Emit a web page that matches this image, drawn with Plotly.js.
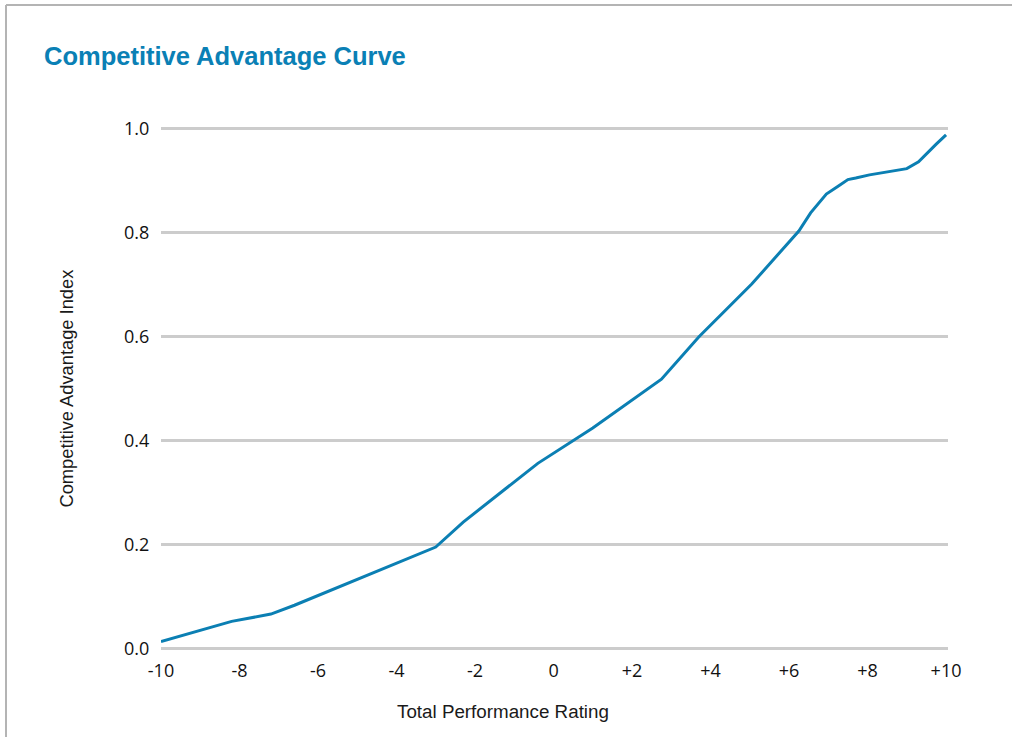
<!DOCTYPE html>
<html>
<head>
<meta charset="utf-8">
<script src="https://cdn.plot.ly/plotly-3.0.1.min.js"></script>
<style>
  html, body { margin: 0; padding: 0; background: #fff; overflow: hidden; }
  #chart { position: absolute; left: 0; top: 0; width: 1012px; height: 737px; }
</style>
</head>
<body>
<div id="chart"></div>
<script>
// Total Performance Rating (x) vs Competitive Advantage Index (y)
const performanceRating = [-10, -8.2, -7.2, -6.6, -3.0, -2.3, -0.4, 1.0, 2.75, 3.7, 5.05, 6.25, 6.55, 6.95, 7.25, 7.5, 7.7, 8.05, 9.0, 9.3, 9.75, 10.0];
const advantageIndex    = [0.013, 0.052, 0.066, 0.083, 0.195, 0.243, 0.356, 0.424, 0.518, 0.599, 0.701, 0.803, 0.838, 0.874, 0.889, 0.902, 0.905, 0.911, 0.923, 0.936, 0.970, 0.988];

const xTickVals = [-10, -8, -6, -4, -2, 0, 2, 4, 6, 8, 10];
const xTickText = ['-10', '-8', '-6', '-4', '-2', '0', '+2', '+4', '+6', '+8', '+10'];
const yTickVals = [0, 0.2, 0.4, 0.6, 0.8, 1.0];
const yTickText = ['0.0', '0.2', '0.4', '0.6', '0.8', '1.0'];

const titleText = 'Competitive Advantage Curve';
const xTitleText = 'Total Performance Rating';
const yTitleText = 'Competitive Advantage Index';

const W = 1012, H = 737;
const M = { l: 161, r: 64, t: 126, b: 86 };
const PW = W - M.l - M.r, PH = H - M.t - M.b;

const trace = {
  x: performanceRating,
  y: advantageIndex,
  type: 'scatter',
  mode: 'lines',
  line: { color: '#0b7fb3', width: 3, shape: 'linear' },
  hoverinfo: 'skip'
};

const layout = {
  width: W,
  height: H,
  margin: { l: M.l, r: M.r, t: M.t, b: M.b, pad: 0 },
  paper_bgcolor: '#ffffff',
  plot_bgcolor: 'rgba(0,0,0,0)',
  showlegend: false,
  font: { family: '"Liberation Sans", Arial, sans-serif', color: '#1a1a1a', size: 16 },
  title: {
    text: '<b>' + titleText + '</b>',
    font: { family: '"Liberation Sans", Arial, sans-serif', size: 25.5, color: '#0a80b5' },
    x: 44 / W, xanchor: 'left', xref: 'container',
    y: 1 - 56 / H, yanchor: 'middle', yref: 'container'
  },
  xaxis: {
    range: [-10, 10.05],
    tickvals: xTickVals,
    ticktext: xTickText,
    showgrid: false,
    zeroline: false,
    showline: false,
    ticks: 'outside', ticklen: 3, tickcolor: 'rgba(0,0,0,0)',
    tickfont: { family: '"Open Sans", "Noto Sans", sans-serif', size: 18, color: '#111' },
    fixedrange: true
  },
  yaxis: {
    range: [-0.005, 1.005],
    tickvals: yTickVals,
    ticktext: yTickText,
    showgrid: true,
    gridcolor: '#cccccc',
    gridwidth: 2.5,
    zeroline: false,
    showline: false,
    ticks: 'outside', ticklen: 7, tickcolor: 'rgba(0,0,0,0)',
    tickfont: { family: '"Open Sans", "Noto Sans", sans-serif', size: 18, color: '#111' },
    fixedrange: true
  },
  shapes: [
    { type: 'line', xref: 'paper', yref: 'paper', layer: 'below',
      x0: (6 - M.l) / PW, x1: (6 - M.l) / PW, y0: 1 + (M.t - 5) / PH, y1: -(M.b + 20) / PH,
      line: { color: '#b4b4b4', width: 2 } },
    { type: 'line', xref: 'paper', yref: 'paper', layer: 'below',
      x0: (6 - M.l) / PW, x1: 1 + (M.r + 20) / PW, y0: 1 + (M.t - 5) / PH, y1: 1 + (M.t - 5) / PH,
      line: { color: '#b4b4b4', width: 2 } }
  ],
  annotations: [
    {
      text: xTitleText, xref: 'paper', yref: 'paper',
      x: (503 - M.l) / PW, y: -(711 - (H - M.b)) / PH,
      xanchor: 'center', yanchor: 'middle', showarrow: false,
      font: { family: '"Liberation Sans", Arial, sans-serif', size: 18.8, color: '#1a1a1a' }
    },
    {
      text: yTitleText, xref: 'paper', yref: 'paper',
      x: -(M.l - 66) / PW, y: 0.5, textangle: -90,
      xanchor: 'center', yanchor: 'middle', showarrow: false,
      font: { family: '"Liberation Sans", Arial, sans-serif', size: 18.3, color: '#1a1a1a' }
    }
  ]
};

Plotly.newPlot('chart', [trace], layout, { displayModeBar: false, staticPlot: true });
</script>
</body>
</html>
